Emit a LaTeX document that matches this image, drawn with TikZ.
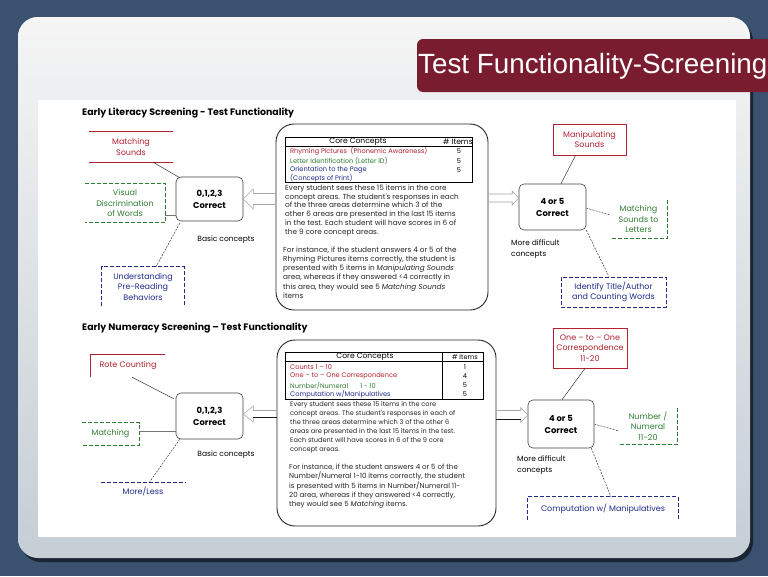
\documentclass[tikz,border=0pt]{standalone}
\usepackage{fontspec}
\setmainfont{Liberation Sans}
\newfontfamily\gothic{Poppins}
\usetikzlibrary{calc}
\definecolor{bgblue}{HTML}{3A5170}
\definecolor{banner}{HTML}{7A1C30}
\definecolor{band}{HTML}{C6CED6}
\definecolor{cred}{HTML}{B3202E}
\definecolor{cgreen}{HTML}{2E7D32}
\definecolor{cblue}{HTML}{1F2A8A}
\tikzset{
  lbl/.style={inner sep=0pt, align=center, font=\gothic\fontsize{8}{10.5}\selectfont},
  note/.style={inner sep=0pt, align=left, font=\gothic\fontsize{7.5}{11}\selectfont},
  ttxt/.style={inner sep=0pt, font=\gothic\fontsize{6.6}{8}\selectfont},
  htxt/.style={inner sep=0pt, font=\gothic\fontsize{7.6}{9}\selectfont},
  ptxt/.style={inner sep=0pt, align=left, anchor=north west, text=black!85},
  cbox/.style={draw=black!75, line width=0.6pt, rounded corners=5pt, align=center, inner sep=0pt, font=\gothic\bfseries\fontsize{8.4}{12}\selectfont},
  bigbox/.style={draw=black!85, line width=0.9pt, rounded corners=18pt, inner sep=0pt},
  ptitle/.style={anchor=base west, inner sep=0pt, font=\gothic\bfseries\fontsize{9.4}{11}\selectfont},
  conn/.style={draw=black!85, line width=0.45pt},
  dconn/.style={conn, dash pattern=on 2pt off 1.2pt},
  redl/.style={draw=cred, line width=0.7pt},
  grnd/.style={draw=cgreen, line width=0.7pt, dash pattern=on 4pt off 2pt},
  blud/.style={draw=cblue, line width=0.7pt, dash pattern=on 4pt off 2pt},
  garrow/.style={draw=black!35, line width=0.6pt, line join=miter},
}
\begin{document}
\begin{tikzpicture}[x=1pt,y=-1pt]
\useasboundingbox (0,0) rectangle (768,576);
% frame
\fill[bgblue] (0,0) rectangle (768,576);
\fill[black!55!bgblue, rounded corners=20pt] (21,21) rectangle (753,562);
\fill[band, rounded corners=20pt] (18,17) rectangle (750,558);
\begin{scope}
  \clip[rounded corners=20pt] (18,17) rectangle (750,558);
  \shade[top color=black!4, middle color=white, bottom color=band] (18,17) rectangle (750,548);
\end{scope}
\fill[white] (38,100) rectangle (736,537);
% banner
\fill[banner, rounded corners=6pt] (417,39) rectangle (800,92);
\node[anchor=base west, inner sep=0pt, text=white, font=\fontsize{27.8}{30}\selectfont] (title) at (418,73) {Test Functionality-Screening};

% ================= upper panel =================
\node[ptitle] (t1) at (82,115) {Early Literacy Screening - Test Functionality};

\node[lbl, text=cred, minimum width=83pt, minimum height=30pt] (ms) at (131,147) {Matching\\Sounds};
\draw[redl] (ms.north west) -- (ms.north east) (ms.south west) -- (ms.south east);

\node[lbl, text=cgreen, minimum width=80pt, minimum height=39pt] (vd) at (125,203) {Visual\\Discrimination\\of Words};
\draw[grnd] (vd.north west) -- (vd.north east) -- (vd.south east) -- (vd.south west);

\node[cbox, minimum width=67pt, minimum height=44pt] (b1) at (209.5,199) {0,1,2,3\\Correct};
\node[note] (bc1) at (226,240) {Basic concepts};

\node[lbl, text=cblue, minimum width=82pt, minimum height=39pt] (ub) at (143,286.5) {Understanding\\Pre-Reading\\Behaviors};
\draw[blud] (ub.south west) -- (ub.north west) -- (ub.north east) -- (ub.south east);

\draw[conn] ($(ms.south)+(22,0)$) -- ($(b1.north west)+(4,1)$);
\draw[black!55, line width=0.8pt] ($(vd.east)+(0,12)$) -- ($(b1.west)+(0,16)$);
\draw[dconn] ($(b1.south west)+(4,2)$) -- ($(ub.north)+(13,0)$);

\node[bigbox, minimum width=212pt, minimum height=186pt] (cc1) at (382,217) {};
\node[draw=black, line width=0.7pt, inner sep=0pt, minimum width=187pt, minimum height=45pt] (tb1) at (378.5,159.5) {};
\draw[black, line width=0.6pt] ($(tb1.north west)+(0,10)$) -- ($(tb1.north east)+(0,10)$);
\node[htxt] (h1a) at (358,142) {Core Concepts};
\node[htxt] (h1b) at (458,142) {\# Items};
\node[ttxt, anchor=west, text=cred] (r11) at (290,151.5) {Rhyming Pictures\ \ (Phonemic Awareness)};
\node[ttxt, anchor=west, text=cgreen] (r12) at (290,161) {Letter Identification (Letter ID)};
\node[ttxt, anchor=west, text=cblue] (r13) at (290,170) {Orientation to the Page};
\node[ttxt, anchor=west, text=cblue] (r14) at (290,178.5) {(Concepts of Print)};
\node[ttxt] (n11) at (459,151.5) {5};
\node[ttxt] (n12) at (459,161) {5};
\node[ttxt] (n13) at (459,170) {5};

\node[ptxt, font=\gothic\fontsize{7.3}{8.8}\selectfont] (p11) at (285,184.5) {Every student sees these 15 items in the core\\concept areas. The student's responses in each\\of the three areas determine which 3 of the\\other 6 areas are presented in the last 15 items\\in the test. Each student will have scores in 6 of\\the 9 core concept areas.};
\node[ptxt, font=\gothic\fontsize{7.3}{9.2}\selectfont] (p12) at (283,246.5) {For instance, if the student answers 4 or 5 of the\\Rhyming Pictures items correctly, the student is\\presented with 5 items in \textit{Manipulating Sounds}\\area, whereas if they answered <4 correctly in\\this area, they would see 5 \textit{Matching Sounds}\\items};

\coordinate (a1u) at ($(b1.east)+(10,-5.5)$);
\coordinate (a1d) at ($(b1.east)+(10,5.5)$);
\draw[garrow] (a1u -| cc1.west) -- (a1u) -- ($(b1.east)+(10,-10)$) -- (b1.east) -- ($(b1.east)+(10,10)$) -- (a1d) -- (a1d -| cc1.west);

\node[cbox, minimum width=67pt, minimum height=46pt] (b2) at (552.5,207) {4 or 5\\Correct};
\coordinate (tip2) at ($(b2.west)+(0,-9)$);
\coordinate (a2u) at ($(tip2)+(-6.5,-4)$);
\coordinate (a2d) at ($(tip2)+(-6.5,4)$);
\draw[garrow] (a2u -| cc1.east) -- (a2u) -- ($(tip2)+(-6.5,-7)$) -- (tip2) -- ($(tip2)+(-6.5,7)$) -- (a2d) -- (a2d -| cc1.east);

\node[lbl, draw=cred, line width=0.7pt, text=cred, minimum width=73pt, minimum height=31pt] (msd) at (589.5,139.5) {Manipulating\\Sounds};
\draw[conn] ($(msd.south)+(-14,0)$) -- ($(b2.north)+(8.5,0)$);

\node[lbl, text=cgreen, minimum width=57pt, minimum height=38pt] (msl) at (638.5,219) {Matching\\Sounds to\\Letters};
\draw[grnd] (msl.north east) -- (msl.south east) -- (msl.south west);
\draw[dconn] ($(b2.east)+(0,1)$) -- ($(msl.west)+(0,-4)$);

\node[note, anchor=north west] (md1) at (511,240) {More difficult\\concepts};

\node[lbl, draw=cblue, line width=0.7pt, dash pattern=on 4pt off 2pt, text=cblue, minimum width=105pt, minimum height=30pt] (itc) at (613.5,292) {Identify Title/Author\\and Counting Words};
\draw[dconn] (b2.south east) -- ($(itc.north)+(-4.5,0)$);

% ================= lower panel =================
\node[ptitle] (t2) at (82,330) {Early Numeracy Screening – Test Functionality};

\node[lbl, text=cred, minimum width=74pt, minimum height=22pt] (rc) at (128,366) {Rote Counting};
\draw[redl] (rc.south west) -- (rc.north west) -- (rc.north east);

\node[cbox, minimum width=67pt, minimum height=46pt] (b3) at (209.5,416) {0,1,2,3\\Correct};
\draw[conn] ($(rc.south)+(4,0)$) -- ($(b3.north west)+(-2,6)$);

\node[lbl, text=cgreen, minimum width=57pt, minimum height=22pt] (mt) at (110.5,434) {Matching};
\draw[grnd] (mt.north west) -- (mt.north east) -- (mt.south east) -- (mt.south west);
\draw[black!55, line width=0.8pt] ($(mt.east)+(0,-3)$) -- ($(b3.west)+(0,15)$);

\node[note] (bc2) at (226,455) {Basic concepts};

\node[lbl, text=cblue, minimum width=84pt, minimum height=16pt] (ml) at (143,491) {More/Less};
\draw[blud] (ml.north west) -- (ml.north east);
\draw[dconn] ($(b3.south west)+(4,0)$) -- ($(ml.north)+(6,0)$);

\node[bigbox, minimum width=219pt, minimum height=186pt] (cc2) at (386.5,433) {};
\node[draw=black, line width=0.7pt, inner sep=0pt, minimum width=198pt, minimum height=47pt] (tb2) at (384,375.5) {};
\draw[black, line width=0.6pt] ($(tb2.north west)+(0,10)$) -- ($(tb2.north east)+(0,10)$);
\draw[black, line width=0.6pt] ($(tb2.north west)+(158,0)$) -- ($(tb2.south west)+(158,0)$);
\node[htxt] (h2a) at (365,357) {Core Concepts};
\node[ttxt] (h2b) at (465,357) {\# Items};
\node[ttxt, anchor=west, text=cred] (r21) at (290,367) {Counts 1 – 10};
\node[ttxt, anchor=west, text=cred] (r22) at (290,376) {One – to – One Correspondence};
\node[ttxt, anchor=west, text=cgreen] (r23) at (290,385.5) {Number/Numeral\hspace{12pt}1 - 10};
\node[ttxt, anchor=west, text=cblue] (r24) at (290,394.5) {Computation w/Manipulatives};
\node[ttxt] (n21) at (465,367) {1};
\node[ttxt] (n22) at (465,376) {4};
\node[ttxt] (n23) at (465,385.5) {5};
\node[ttxt] (n24) at (465,394.5) {5};

\node[ptxt, font=\gothic\fontsize{6.6}{8.9}\selectfont] (p21) at (290,401.5) {Every student sees these 15 items in the core\\concept areas. The student's responses in each of\\the three areas determine which 3 of the other 6\\areas are presented in the last 15 items in the test.\\Each student will have scores in 6 of the 9 core\\concept areas.};
\node[ptxt, font=\gothic\fontsize{7.1}{9.2}\selectfont] (p22) at (289,464) {For instance, if the student answers 4 or 5 of the\\Number/Numeral 1-10 items correctly, the student\\is presented with 5 items in Number/Numeral 11-\\20 area, whereas if they answered <4 correctly,\\they would see 5 \textit{Matching} items.};

\coordinate (tip3) at ($(b3.east)+(0,-2)$);
\coordinate (a3u) at ($(tip3)+(10,-3.5)$);
\coordinate (a3d) at ($(tip3)+(10,3.5)$);
\draw[garrow] (a3u -| cc2.west) -- (a3u) -- ($(tip3)+(10,-8)$) -- (tip3) -- ($(tip3)+(10,8)$) -- (a3d);
\draw[black!90, line width=0.7pt] (a3d) -- (a3d -| cc2.west);

\node[cbox, minimum width=66pt, minimum height=48pt] (b4) at (561,424) {4 or 5\\Correct};
\coordinate (tip4) at ($(b4.west)+(0,-9)$);
\coordinate (a4u) at ($(tip4)+(-7,-4.5)$);
\coordinate (a4d) at ($(tip4)+(-7,4.5)$);
\draw[garrow] (a4u -| cc2.east) -- (a4u) -- ($(tip4)+(-7,-7.5)$) -- (tip4) -- ($(tip4)+(-7,7.5)$) -- (a4d);
\draw[black!90, line width=0.7pt] (a4d) -- (a4d -| cc2.east);

\node[lbl, draw=cred, line width=0.7pt, text=cred, minimum width=74pt, minimum height=40pt] (oto) at (590,348) {One – to – One\\Correspondence\\11-20};
\draw[conn] ($(oto.south)+(-5,0)$) -- ($(b4.north)+(1,0)$);

\node[lbl, text=cgreen, minimum width=58pt, minimum height=36pt] (nn) at (648,426) {Number /\\Numeral\\11-20};
\draw[grnd] (nn.north east) -- (nn.south east) -- (nn.south west);
\draw[dconn] (b4.east) -- ($(nn.west)+(0,5)$);

\node[note, anchor=north west] (md2) at (517,456) {More difficult\\concepts};

\node[lbl, text=cblue, minimum width=150pt, minimum height=23pt] (cwm) at (603,508.5) {Computation w/ Manipulatives};
\draw[blud] (cwm.south west) -- (cwm.north west) -- (cwm.north east) -- (cwm.south east);
\draw[dconn] ($(b4.south east)+(-3,0)$) -- ($(cwm.north)+(8,0)$);
\end{tikzpicture}
\end{document}
